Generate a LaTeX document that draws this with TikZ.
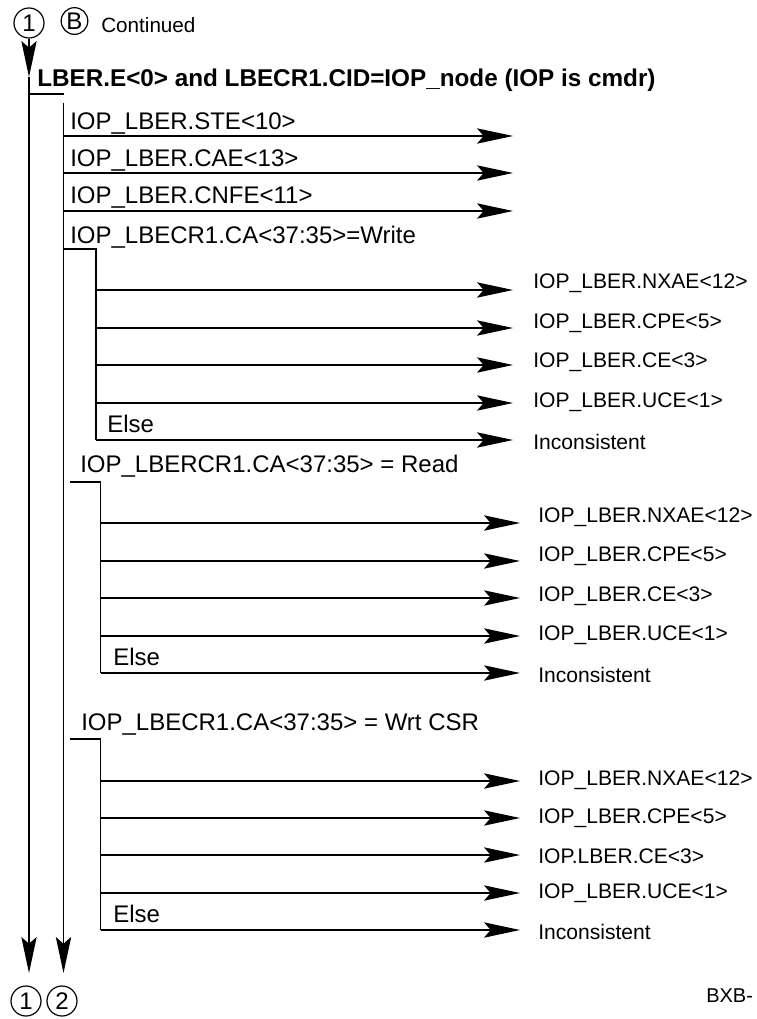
\documentclass[tikz,border=0pt]{standalone}
\usepackage{fontspec}
\setmainfont{Liberation Sans}
\usetikzlibrary{arrows.meta}

\begin{document}
\begin{tikzpicture}[x=0.75pt,y=-0.75pt]  % <-- one unit per pixel, y downwards

\tikzset{
flowline/.style={
line width=0.9pt
},
flowarrow/.style={
line width=0.9pt,
-{Stealth[length=27pt,width=11.5pt,inset=5pt]}
},
condtext/.style={
anchor=base west,
inner sep=0pt,
font=\fontsize{18}{20}\selectfont
},
resulttext/.style={
anchor=west,
inner sep=0pt,
font=\fontsize{15.8}{18}\selectfont
},
offpage/.style={
circle,
draw,
line width=0.9pt,
inner sep=0pt,
minimum size=22.5pt,
font=\fontsize{18}{18}\selectfont
}
}

\useasboundingbox (0,0) rectangle (756,1019);

%----------------------------------
% HEADER
%----------------------------------

\node[offpage] (top1) at (29,23) {1};
\node[offpage,minimum size=20pt] (pageB) at (74.5,21) {B};
\node[anchor=base west,inner sep=0pt,font=\fontsize{15.5}{17}\selectfont] (cont) at (101,33) {Continued};

\node[condtext,font=\bfseries\fontsize{18.2}{20}\selectfont] (cond) at (37,87)
{LBER.E<0> and LBECR1.CID=IOP\_node (IOP is cmdr)};

%----------------------------------
% MAIN LINES
%----------------------------------

\coordinate (l1in) at (29,77);
\coordinate (l1out) at (29,973);
\coordinate (l2in) at (63.5,103);
\coordinate (l2out) at (63.5,973);
\coordinate (cnda) at (29,94);
\coordinate (cndb) at (64,94);

\draw[flowarrow] (top1) -- (l1in);
\draw[flowarrow] (l1in) -- (l1out);
\draw[flowline] (cnda) -- (cndb);
\draw[flowarrow] (l2in) -- (l2out);

\node[offpage] (bot1) at (26,1001) {1};
\node[offpage] (bot2) at (62,1001) {2};

%----------------------------------
% ERROR BITS
%----------------------------------

\node[condtext] (ste) at (70,130) {IOP\_LBER.STE<10>};
\node[condtext] (cae) at (70,167) {IOP\_LBER.CAE<13>};
\node[condtext] (cnfe) at (70,204) {IOP\_LBER.CNFE<11>};

\coordinate (ste0) at (63.5,136);
\coordinate (ste1) at (513,136);
\coordinate (cae0) at (63.5,173);
\coordinate (cae1) at (513,173);
\coordinate (cnfe0) at (63.5,211);
\coordinate (cnfe1) at (513,211);

\draw[flowarrow] (ste0) -- (ste1);
\draw[flowarrow] (cae0) -- (cae1);
\draw[flowarrow] (cnfe0) -- (cnfe1);

%----------------------------------
% WRITE
%----------------------------------

\node[condtext] (wr) at (70,244) {IOP\_LBECR1.CA<37:35>=Write};
\draw[flowline] (63.5,249) -- (96,249) -- (96,440);

\node[resulttext] (wrnxae) at (533,283) {IOP\_LBER.NXAE<12>};
\node[resulttext] (wrcpe) at (533,323) {IOP\_LBER.CPE<5>};
\node[resulttext] (wrce) at (533,362) {IOP\_LBER.CE<3>};
\node[resulttext] (wruce) at (533,402) {IOP\_LBER.UCE<1>};
\node[resulttext] (wrinc) at (533,442) {Inconsistent};
\node[condtext] (wrelse) at (107,432) {Else};

\coordinate (wr1) at (96,290);
\coordinate (wr2) at (96,328);
\coordinate (wr3) at (96,365);
\coordinate (wr4) at (96,403);
\coordinate (wr5) at (96,440);

\draw[flowarrow,shorten >=15pt] (wr1) -- (wr1 -| wrnxae.west);
\draw[flowarrow,shorten >=15pt] (wr2) -- (wr2 -| wrcpe.west);
\draw[flowarrow,shorten >=15pt] (wr3) -- (wr3 -| wrce.west);
\draw[flowarrow,shorten >=15pt] (wr4) -- (wr4 -| wruce.west);
\draw[flowarrow,shorten >=15pt] (wr5) -- (wr5 -| wrinc.west);

%----------------------------------
% READ
%----------------------------------

\node[condtext] (rd) at (80,472) {IOP\_LBERCR1.CA<37:35> = Read};
\draw[flowline] (70,482) -- (100.5,482) -- (100.5,673);

\node[resulttext] (rdnxae) at (538,517) {IOP\_LBER.NXAE<12>};
\node[resulttext] (rdcpe) at (538,556) {IOP\_LBER.CPE<5>};
\node[resulttext] (rdce) at (538,596) {IOP\_LBER.CE<3>};
\node[resulttext] (rduce) at (538,635) {IOP\_LBER.UCE<1>};
\node[resulttext] (rdinc) at (538,675) {Inconsistent};
\node[condtext] (rdelse) at (113,665) {Else};

\coordinate (rd1) at (100.5,523);
\coordinate (rd2) at (100.5,561);
\coordinate (rd3) at (100.5,598);
\coordinate (rd4) at (100.5,636);
\coordinate (rd5) at (100.5,673);

\draw[flowarrow,shorten >=13.5pt] (rd1) -- (rd1 -| rdnxae.west);
\draw[flowarrow,shorten >=13.5pt] (rd2) -- (rd2 -| rdcpe.west);
\draw[flowarrow,shorten >=13.5pt] (rd3) -- (rd3 -| rdce.west);
\draw[flowarrow,shorten >=13.5pt] (rd4) -- (rd4 -| rduce.west);
\draw[flowarrow,shorten >=13.5pt] (rd5) -- (rd5 -| rdinc.west);

%----------------------------------
% WRITE CSR
%----------------------------------

\node[condtext] (wc) at (81,730) {IOP\_LBECR1.CA<37:35> = Wrt CSR};
\draw[flowline] (70,739) -- (100.5,739) -- (100.5,930);

\node[resulttext] (wcnxae) at (538,780) {IOP\_LBER.NXAE<12>};
\node[resulttext] (wccpe) at (538,818) {IOP\_LBER.CPE<5>};
\node[resulttext] (wcce) at (538,856) {IOP.LBER.CE<3>};
\node[resulttext] (wcuce) at (538,893) {IOP\_LBER.UCE<1>};
\node[resulttext] (wcinc) at (538,932) {Inconsistent};
\node[condtext] (wcelse) at (113,922) {Else};

\coordinate (wc1) at (100.5,781);
\coordinate (wc2) at (100.5,818);
\coordinate (wc3) at (100.5,855);
\coordinate (wc4) at (100.5,893);
\coordinate (wc5) at (100.5,930);

\draw[flowarrow,shorten >=13.5pt] (wc1) -- (wc1 -| wcnxae.west);
\draw[flowarrow,shorten >=13.5pt] (wc2) -- (wc2 -| wccpe.west);
\draw[flowarrow,shorten >=13.5pt] (wc3) -- (wc3 -| wcce.west);
\draw[flowarrow,shorten >=13.5pt] (wc4) -- (wc4 -| wcuce.west);
\draw[flowarrow,shorten >=13.5pt] (wc5) -- (wc5 -| wcinc.west);

%----------------------------------
% FIGURE ID
%----------------------------------

\node[anchor=base west,inner sep=0pt,font=\fontsize{15}{17}\selectfont] (figid) at (706,1002) {BXB-};

\end{tikzpicture}
\end{document}
